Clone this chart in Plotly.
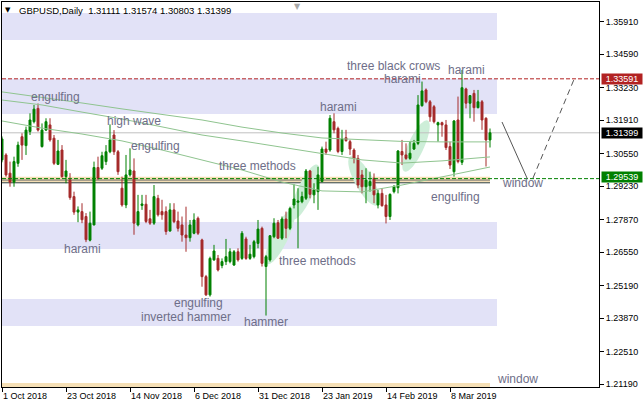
import numpy as np
import plotly.graph_objects as go

# ---------------- data ----------------
date_tick_bars = [0, 16, 32, 48, 64, 80, 96, 112]
date_tick_labels = ["1 Oct 2018", "23 Oct 2018", "14 Nov 2018", "6 Dec 2018",
                    "31 Dec 2018", "23 Jan 2019", "14 Feb 2019", "8 Mar 2019"]

price_ticks = [1.35910, 1.34590, 1.33230, 1.31910, 1.30550, 1.29230,
               1.27870, 1.26550, 1.25190, 1.23870, 1.22510, 1.21190]

opens = [1.3030, 1.3050, 1.2976, 1.2939, 1.3016, 1.3124, 1.3088, 1.3145, 1.3185, 1.3239,
         1.3084, 1.3151, 1.3172, 1.3118, 1.3012, 1.3070, 1.2962, 1.2949, 1.2881, 1.2818,
         1.2820, 1.2800, 1.2704, 1.2766, 1.2999, 1.2996, 1.3023, 1.3063, 1.3131, 1.3063,
         1.2915, 1.2847, 1.2969, 1.2985, 1.2766, 1.2845, 1.2850, 1.2791, 1.2773, 1.2874,
         1.2820, 1.2820, 1.2741, 1.2827, 1.2782, 1.2766, 1.2725, 1.2714, 1.2732, 1.2793,
         1.2705, 1.2556, 1.2482, 1.2624, 1.2630, 1.2601, 1.2617, 1.2617, 1.2603, 1.2657,
         1.2630, 1.2709, 1.2630, 1.2637, 1.2691, 1.2752, 1.2597, 1.2624, 1.2718, 1.2775,
         1.2712, 1.2790, 1.2752, 1.2847, 1.2858, 1.2860, 1.2874, 1.2985, 1.2888, 1.2901,
         1.2942, 1.3074, 1.3070, 1.3185, 1.3158, 1.3064, 1.3120, 1.3104, 1.3070, 1.3036,
         1.2969, 1.2921, 1.2925, 1.2955, 1.2847, 1.2894, 1.2847, 1.2800, 1.2901, 1.2917,
         1.3064, 1.3050, 1.3036, 1.3074, 1.3097, 1.3250, 1.3314, 1.3266, 1.3246, 1.3172,
         1.3181, 1.3172, 1.3084, 1.2982, 1.3192, 1.3020, 1.3318, 1.3260, 1.3300, 1.3242,
         1.3266, 1.3199, 1.31111]
highs = [1.3125, 1.3057, 1.3023, 1.3043, 1.3104, 1.3138, 1.3165, 1.3219, 1.3253, 1.3259,
         1.3178, 1.3199, 1.3199, 1.3131, 1.3111, 1.3090, 1.3030, 1.2976, 1.2901, 1.2841,
         1.2854, 1.2814, 1.2820, 1.3023, 1.3043, 1.3063, 1.3090, 1.3174, 1.3151, 1.3070,
         1.2962, 1.3050, 1.3077, 1.3036, 1.2888, 1.2888, 1.2888, 1.2827, 1.2928, 1.2888,
         1.2868, 1.2841, 1.2854, 1.2854, 1.2820, 1.2800, 1.2840, 1.2786, 1.2813, 1.2800,
         1.2710, 1.2563, 1.2637, 1.2685, 1.2644, 1.2630, 1.2709, 1.2671, 1.2664, 1.2671,
         1.2741, 1.2718, 1.2685, 1.2705, 1.2786, 1.2759, 1.2644, 1.2725, 1.2793, 1.2786,
         1.2800, 1.2820, 1.2840, 1.2931, 1.2915, 1.2901, 1.2993, 1.2989, 1.2935, 1.3002,
         1.3084, 1.3104, 1.3212, 1.3219, 1.3165, 1.3152, 1.3152, 1.3111, 1.3077, 1.3050,
         1.2989, 1.2996, 1.2982, 1.2975, 1.2908, 1.2915, 1.2888, 1.2894, 1.2928, 1.3070,
         1.3111, 1.3097, 1.3104, 1.3111, 1.3293, 1.3348, 1.3320, 1.3273, 1.3253, 1.3185,
         1.3185, 1.3192, 1.3104, 1.3192, 1.3287, 1.3395, 1.3323, 1.3293, 1.3314, 1.3314,
         1.3273, 1.3203, 1.31574]
lows = [1.3020, 1.2962, 1.2921, 1.2921, 1.3002, 1.3030, 1.3050, 1.3131, 1.3178, 1.3145,
        1.3080, 1.3147, 1.3104, 1.3009, 1.3009, 1.2958, 1.2935, 1.2868, 1.2807, 1.2777,
        1.2773, 1.2696, 1.2699, 1.2764, 1.2949, 1.2989, 1.3009, 1.3057, 1.3050, 1.2969,
        1.2840, 1.2834, 1.2962, 1.2726, 1.2760, 1.2827, 1.2773, 1.2766, 1.2766, 1.2800,
        1.2787, 1.2726, 1.2739, 1.2773, 1.2739, 1.2698, 1.2657, 1.2698, 1.2728, 1.2725,
        1.2515, 1.2478, 1.2475, 1.2620, 1.2577, 1.2590, 1.2603, 1.2610, 1.2600, 1.2617,
        1.2624, 1.2624, 1.2624, 1.2630, 1.2671, 1.2597, 1.2398, 1.2617, 1.2712, 1.2709,
        1.2705, 1.2712, 1.2745, 1.2833, 1.2671, 1.2854, 1.2867, 1.2874, 1.2854, 1.2827,
        1.2939, 1.3050, 1.3063, 1.3138, 1.3057, 1.3050, 1.3104, 1.3050, 1.3016, 1.2915,
        1.2894, 1.2854, 1.2901, 1.2854, 1.2833, 1.2840, 1.2772, 1.2786, 1.2894, 1.2894,
        1.3009, 1.3030, 1.3030, 1.3070, 1.3090, 1.3246, 1.3260, 1.3185, 1.3178, 1.3104,
        1.3124, 1.3070, 1.2993, 1.2962, 1.3016, 1.3009, 1.3239, 1.3199, 1.3185, 1.3239,
        1.3152, 1.3003, 1.30803]
closes = [1.3115, 1.2969, 1.2939, 1.3023, 1.3090, 1.3090, 1.3151, 1.3192, 1.3236, 1.3151,
          1.3151, 1.3185, 1.3111, 1.3016, 1.3066, 1.2962, 1.2985, 1.2877, 1.2818, 1.2827,
          1.2787, 1.2706, 1.2773, 1.2999, 1.2955, 1.3047, 1.3063, 1.3111, 1.3063, 1.2982,
          1.2847, 1.2969, 1.2989, 1.2773, 1.2820, 1.2851, 1.2780, 1.2773, 1.2881, 1.2807,
          1.2807, 1.2739, 1.2827, 1.2779, 1.2752, 1.2725, 1.2714, 1.2766, 1.2786, 1.2732,
          1.2556, 1.2482, 1.2630, 1.2660, 1.2583, 1.2617, 1.2637, 1.2657, 1.2657, 1.2624,
          1.2732, 1.2630, 1.2647, 1.2698, 1.2749, 1.2610, 1.2637, 1.2722, 1.2773, 1.2712,
          1.2790, 1.2752, 1.2833, 1.2871, 1.2863, 1.2881, 1.2985, 1.2890, 1.2908, 1.2969,
          1.3074, 1.3061, 1.3199, 1.3152, 1.3064, 1.3115, 1.3108, 1.3074, 1.3036, 1.2928,
          1.2921, 1.2948, 1.2942, 1.2888, 1.2894, 1.2844, 1.2800, 1.2890, 1.2921, 1.3066,
          1.3050, 1.3036, 1.3057, 1.3097, 1.3253, 1.3310, 1.3266, 1.3205, 1.3185, 1.3181,
          1.3172, 1.3080, 1.3009, 1.3188, 1.3023, 1.3323, 1.3260, 1.3291, 1.3242, 1.3266,
          1.3192, 1.3111, 1.31399]

ma_bars = [0, 10, 20, 30, 40, 50, 60, 70, 80, 90, 100, 110, 122]
ma_slow = [1.3306, 1.3285, 1.3261, 1.3237, 1.3216, 1.3192, 1.3163, 1.3139, 1.3119, 1.3111, 1.3105, 1.3103, 1.3103]
ma_mid = [1.3273, 1.3253, 1.3224, 1.3196, 1.3164, 1.3131, 1.3107, 1.3082, 1.3058, 1.3030, 1.3017, 1.3026, 1.3042]
ma_fast = [1.3188, 1.3159, 1.3135, 1.3107, 1.3070, 1.3030, 1.2989, 1.2940, 1.2904, 1.2900, 1.2928, 1.2961, 1.3001]

# zones (price ranges)
lavender_zones = [(1.3517, 1.3626), (1.3216, 1.3359), (1.2668, 1.2778), (1.2356, 1.2465)]
peach_zone = (1.2938, 1.2962)
window_zone = (1.2105, 1.2124)
red_level = 1.33591
green_level = 1.29539
bid_level = 1.31399

pattern_labels = ["engulfing", "high wave", "engulfing", "harami", "engulfing", "inverted hammer",
                  "hammer", "three methods", "three methods", "harami", "three black crows",
                  "harami", "harami", "engulfing", "window", "window"]
label_bars = [13.25, 33.0, 38.25, 20.0, 49.0, 46.1, 66.1, 63.75, 78.75, 84.0, 97.75,
              100.0, 116.1, 113.25, 130.0, 128.9]
label_prices = [1.32853, 1.31878, 1.30863, 1.26682, 1.24489, 1.23921, 1.23718, 1.30051,
                1.26194, 1.32447, 1.34111, 1.33584, 1.33949, 1.28793, 1.29361, 1.21404]

# projection lines
proj_down_bars = [125.0, 131.25]
proj_down_prices = [1.31838, 1.29564]
proj_up_bars = [132.75, 143.25]
proj_up_prices = [1.29564, 1.33665]

# ---------------- layout geometry ----------------
W, H = 643, 408
ML, MR, MT, MB = 2, 44, 2, 21
plot_w = W - ML - MR
plot_h = H - MT - MB
x_range = [0.0, plot_w / 4.0]
y_range = [1.21079, 1.36710]
ppu = plot_h / (y_range[1] - y_range[0])  # pixels per price unit
ppb = plot_w / (x_range[1] - x_range[0])  # pixels per bar

idx = list(range(len(opens)))

fig = go.Figure()

ma_color = "#8fc48f"
for ys in (ma_slow, ma_mid, ma_fast):
    fig.add_trace(go.Scatter(x=ma_bars, y=ys, mode="lines",
                             line=dict(color=ma_color, width=1), hoverinfo="skip"))

fig.add_trace(go.Candlestick(
    x=idx, open=opens, high=highs, low=lows, close=closes,
    increasing=dict(line=dict(color="#008000", width=1), fillcolor="#008000"),
    decreasing=dict(line=dict(color="#a52a2a", width=1), fillcolor="#a52a2a"),
    whiskerwidth=0,
))

fig.add_trace(go.Scatter(x=proj_down_bars, y=proj_down_prices, mode="lines",
                         line=dict(color="#555555", width=1), hoverinfo="skip"))
fig.add_trace(go.Scatter(x=proj_up_bars, y=proj_up_prices, mode="lines",
                         line=dict(color="#555555", width=1, dash="6px,4px"), hoverinfo="skip"))

shapes = []
zone_end = 123.75
for lo, hi in lavender_zones:
    shapes.append(dict(type="rect", xref="x", yref="y", x0=x_range[0], x1=zone_end,
                       y0=lo, y1=hi, fillcolor="#e2e2f7", line=dict(width=0), layer="below"))
shapes.append(dict(type="rect", xref="x", yref="y", x0=x_range[0], x1=122,
                   y0=peach_zone[0], y1=peach_zone[1], fillcolor="#f5dfb5",
                   line=dict(width=0), layer="below"))
shapes.append(dict(type="rect", xref="x", yref="y", x0=x_range[0], x1=122,
                   y0=window_zone[0], y1=window_zone[1], fillcolor="#f5dfb5",
                   line=dict(width=0), layer="below"))
shapes.append(dict(type="line", xref="x", yref="y", x0=x_range[0], x1=122,
                   y0=peach_zone[0] - 0.0001, y1=peach_zone[0] - 0.0001,
                   line=dict(color="#2f3f3f", width=1), layer="below"))
shapes.append(dict(type="line", xref="x", yref="y", x0=x_range[0], x1=122,
                   y0=peach_zone[0] + 0.0010, y1=peach_zone[0] + 0.0010,
                   line=dict(color="#707070", width=1), layer="below"))


def ellipse_path(cb, cp, a, b, ang_deg):
    th = np.radians(ang_deg)
    t = np.linspace(0, 2 * np.pi, 60)
    px = a * np.cos(t) * np.cos(th) - b * np.sin(t) * np.sin(th)
    py = a * np.cos(t) * np.sin(th) + b * np.sin(t) * np.cos(th)
    xs = cb + px / ppb
    ys = cp - py / ppu
    return "M " + " L ".join(f"{x:.4f},{y:.6f}" for x, y in zip(xs, ys)) + " Z"


ellipses = [(69.5, 1.27169, 30, 8, -64.4), (75.75, 1.28996, 30, 8, -65.7),
            (90.5, 1.29442, 28, 9, 60.9), (103.5, 1.30863, 28, 8, -65.4)]
for cb, cp, a, b, ang in ellipses:
    shapes.append(dict(type="path", xref="x", yref="y", path=ellipse_path(cb, cp, a, b, ang),
                       fillcolor="#cdeed8", line=dict(width=0), layer="below"))

shapes.append(dict(type="line", xref="x", yref="y", x0=x_range[0], x1=x_range[1],
                   y0=bid_level, y1=bid_level, line=dict(color="#c0c0c0", width=1), layer="below"))
shapes.append(dict(type="line", xref="x", yref="y", x0=x_range[0], x1=x_range[1],
                   y0=red_level, y1=red_level, line=dict(color="#b22222", width=1, dash="4px,2px")))
shapes.append(dict(type="line", xref="x", yref="y", x0=x_range[0], x1=x_range[1],
                   y0=green_level, y1=green_level, line=dict(color="#008000", width=1, dash="4px,2px")))

annotations = []
label_font = dict(family="Liberation Sans, Arial, sans-serif", size=12, color="#6e6e88")
for t, xb, yp in zip(pattern_labels, label_bars, label_prices):
    annotations.append(dict(x=xb, y=yp, xref="x", yref="y", text=t, showarrow=False,
                            font=label_font, xanchor="center", yanchor="middle"))

# price boxes on right axis
for val, col, ys in ((red_level, "#b22222", 0), (bid_level, "#000000", 0), (green_level, "#008000", 2)):
    annotations.append(dict(x=1, xref="paper", y=val, yref="y", xanchor="left", yanchor="middle",
                            xshift=2, yshift=ys, text=f"{val:.5f}", showarrow=False, bgcolor=col,
                            width=40, height=10, borderpad=0,
                            font=dict(family="Liberation Sans, Arial, sans-serif", size=9, color="white")))

# header
annotations.append(dict(x=(17 - ML) / plot_w, y=(H - MB - 10) / plot_h, xref="paper", yref="paper",
                        xanchor="left", yanchor="middle", showarrow=False,
                        text="GBPUSD,Daily  1.31111 1.31574 1.30803 1.31399",
                        font=dict(family="Liberation Sans, Arial, sans-serif", size=9.5, color="#000000")))
annotations.append(dict(x=(8 - ML) / plot_w, y=(H - MB - 10) / plot_h, xref="paper", yref="paper",
                        xanchor="center", yanchor="middle", showarrow=False, text="▼",
                        font=dict(family="DejaVu Sans", size=7, color="#000000")))
annotations.append(dict(x=(297 - ML) / plot_w, y=1, xref="paper", yref="paper",
                        xanchor="center", yanchor="top", showarrow=False, text="▼", yshift=2,
                        font=dict(family="DejaVu Sans", size=8, color="#a8a8a8")))

axis_font = dict(family="Liberation Sans, Arial, sans-serif", size=9, color="#000000")
fig.update_layout(
    width=W, height=H,
    margin=dict(l=ML, r=MR, t=MT, b=MB, autoexpand=False),
    paper_bgcolor="white", plot_bgcolor="white",
    showlegend=False,
    shapes=shapes, annotations=annotations,
    xaxis=dict(range=x_range, tickmode="array", tickvals=date_tick_bars, ticktext=date_tick_labels,
               ticks="outside", ticklen=4, tickcolor="black", ticklabelposition="outside right",
               showgrid=False, zeroline=False, showline=True, linecolor="black", linewidth=1,
               mirror=True, tickfont=axis_font, rangeslider=dict(visible=False), fixedrange=True),
    yaxis=dict(range=y_range, side="right", tickmode="array", tickvals=price_ticks,
               ticktext=[f"{v:.5f}" for v in price_ticks],
               ticks="outside", ticklen=4, tickcolor="black",
               showgrid=False, zeroline=False, showline=True, linecolor="black", linewidth=1,
               mirror=True, tickfont=axis_font, fixedrange=True),
)

fig.write_html("out.html", config={"displayModeBar": False},
               post_script="document.body.style.margin='0';document.body.style.padding='0';")
